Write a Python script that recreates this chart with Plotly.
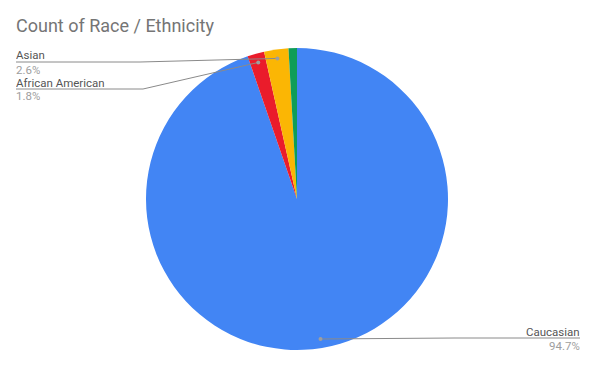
import math
import plotly.graph_objects as go

W, H = 597, 368

labels = ["Caucasian", "African American", "Asian", "Other"]
values = [94.7, 1.8, 2.6, 0.9]
colors = ["#4285F4", "#EA1C2B", "#FBB604", "#0F9D58"]
shown = ["Caucasian", "African American", "Asian"]

# pie placement in pixels
CX, CY, R = 297, 199, 151

def px(x):
    return x / W

def py(y):
    return 1 - y / H

fig = go.Figure(go.Pie(
    labels=labels, values=values, sort=False, direction="clockwise", rotation=0,
    marker=dict(colors=colors, line=dict(width=0)),
    textinfo="none", hoverinfo="label+percent", showlegend=False,
    domain=dict(x=[px(CX - R), px(CX + R)], y=[py(CY + R), py(CY - R)]),
))

total = sum(values)
cum = 0
anchors = {}
for lab, v in zip(labels, values):
    mid = (cum + v / 2) / total * 2 * math.pi
    cum += v
    r = R * 0.94
    anchors[lab] = (CX + r * math.sin(mid), CY - r * math.cos(mid), v / total * 100)

# label layout: (elbow x, line y, line end x, align)
layout_pos = {
    "Asian": (140, 62, 16, "left"),
    "African American": (143, 89, 16, "left"),
    "Caucasian": (455, 338, 580, "right"),
}

shapes = []
annotations = []
for lab in shown:
    ax, ay, pct = anchors[lab]
    ex, ly, tx, align = layout_pos[lab]
    path = f"M {px(tx)} {py(ly)} L {px(ex)} {py(ly)} L {px(ax)} {py(ay)}"
    shapes.append(dict(type="path", xref="paper", yref="paper", path=path,
                       line=dict(color="#8a8a8a", width=1)))
    shapes.append(dict(type="circle", xref="paper", yref="paper",
                       x0=px(ax - 2), x1=px(ax + 2), y0=py(ay + 2), y1=py(ay - 2),
                       fillcolor="#9e9e9e", line=dict(width=0)))
    xanchor = "left" if align == "left" else "right"
    ttx = tx - 1 if align == "left" else tx + 1
    annotations.append(dict(x=px(ttx), y=py(ly - 6.5), xref="paper", yref="paper",
                            text=lab, showarrow=False, xanchor=xanchor, yanchor="middle",
                            height=12, borderpad=0,
                            font=dict(family="Roboto", size=11.5, color="#555555")))
    annotations.append(dict(x=px(ttx), y=py(ly + 7.5), xref="paper", yref="paper",
                            text=f"{pct:.1f}%", showarrow=False, xanchor=xanchor, yanchor="middle",
                            height=12, borderpad=0,
                            font=dict(family="Roboto", size=11.5, color="#9e9e9e")))

annotations.append(dict(x=px(14), y=py(25), xref="paper", yref="paper",
                        text="Count of Race / Ethnicity", showarrow=False,
                        xanchor="left", yanchor="middle",
                        font=dict(family="Roboto", size=18, color="#757575")))

fig.update_layout(
    width=W, height=H, margin=dict(l=0, r=0, t=0, b=0),
    paper_bgcolor="white", plot_bgcolor="white",
    shapes=shapes, annotations=annotations,
)

fig.write_html("out.html")
